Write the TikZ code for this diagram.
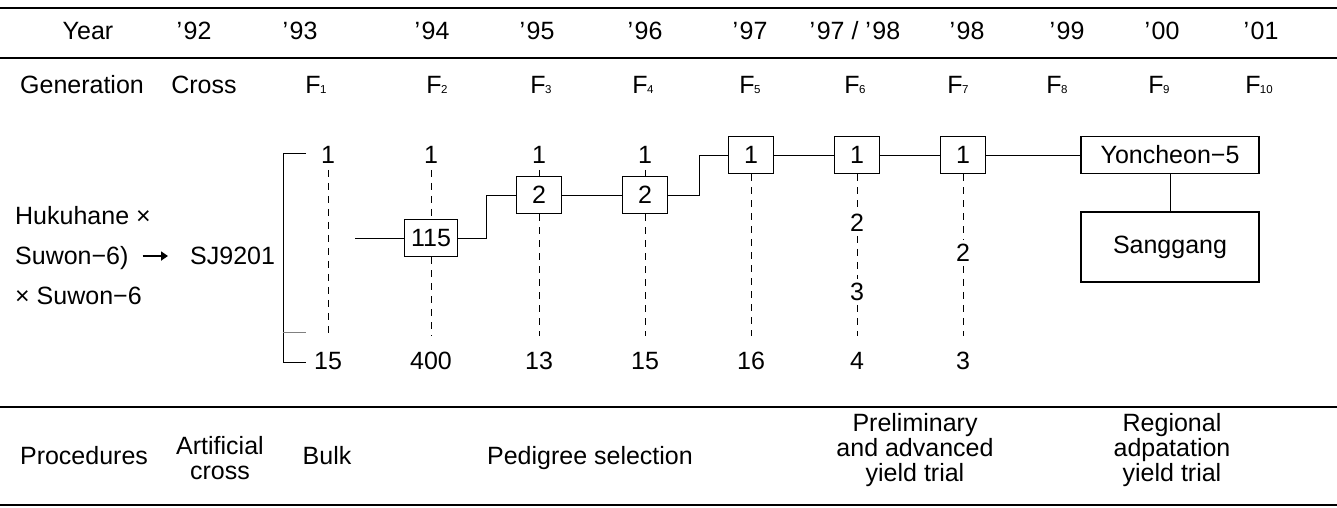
\documentclass[tikz,border=0pt]{standalone}
\usepackage{fontspec}
\setmainfont{Liberation Sans}
\usetikzlibrary{arrows.meta}
\newcommand\Fgen[1]{F\kern-0.6pt{\fontsize{11.5}{11.5}\selectfont #1}}
\newcommand\Yr[1]{’\kern1.5pt#1}
\begin{document}
\begin{tikzpicture}[x=1pt,y=-1pt,
  txt/.style={inner sep=0pt, text height=17.5pt, text depth=0pt, font=\fontsize{25}{26}\selectfont},
  multi/.style={inner sep=0pt, align=center, font=\fontsize{25}{25}\selectfont},
  numbox/.style={draw, line width=1.2pt, minimum width=45pt, minimum height=37pt, inner sep=0pt, font=\fontsize{25}{26}\selectfont},
  namebox/.style={draw, line width=1.2pt, minimum width=178pt, inner sep=0pt, font=\fontsize{25}{26}\selectfont},
  rule/.style={line width=1.6pt},
  conn/.style={line width=1pt},
  dline/.style={line width=0.8pt, dash pattern=on 7pt off 6pt},
  arrowline/.style={line width=2.4pt, -{Triangle[length=7pt,width=9pt]}}
]
\useasboundingbox (0,0) rectangle (1337,507);
% rules
\draw[rule] (0,8) -- (1337,8);
\draw[rule] (0,58) -- (1337,58);
\draw[rule] (0,407) -- (1337,407);
\draw[rule] (0,505) -- (1337,505);
% header: years
\node[txt] (hyear) at (88,31) {Year};
\node[txt] (y92) at (194,31) {\Yr{92}};
\node[txt] (y93) at (300,31) {\Yr{93}};
\node[txt] (y94) at (432,31) {\Yr{94}};
\node[txt] (y95) at (537,31) {\Yr{95}};
\node[txt] (y96) at (645,31) {\Yr{96}};
\node[txt] (y97) at (750,31) {\Yr{97}};
\node[txt] (y9798) at (855,31) {\Yr{97} / \Yr{98}};
\node[txt] (y98) at (967,31) {\Yr{98}};
\node[txt] (y99) at (1067,31) {\Yr{99}};
\node[txt] (y00) at (1162,31) {\Yr{00}};
\node[txt] (y01) at (1261,31) {\Yr{01}};
% header: generations
\node[txt] (hgen) at (82,85) {Generation};
\node[txt] (gcross) at (204,85) {Cross};
\node[txt] (g1) at (316,85) {\Fgen{1}};
\node[txt] (g2) at (437,85) {\Fgen{2}};
\node[txt] (g3) at (541,85) {\Fgen{3}};
\node[txt] (g4) at (643,85) {\Fgen{4}};
\node[txt] (g5) at (750,85) {\Fgen{5}};
\node[txt] (g6) at (855,85) {\Fgen{6}};
\node[txt] (g7) at (958,85) {\Fgen{7}};
\node[txt] (g8) at (1057,85) {\Fgen{8}};
\node[txt] (g9) at (1159,85) {\Fgen{9}};
\node[txt] (g10) at (1259,85) {\Fgen{10}};
% parents
\node[txt, anchor=west] (p1) at (15,216) {Hukuhane ×};
\node[txt, anchor=west] (p2) at (15,256) {Suwon−6)};
\node[txt, anchor=west] (p3) at (15,296) {× Suwon−6};
\node[txt, anchor=west] (sj) at (190,256) {SJ9201};
\draw[arrowline, shorten <=14pt, shorten >=22pt] (p2.east) -- (sj.west);
% bracket
\draw[conn] (306,153) -- (283,153) -- (283,362) -- (306,362);
\draw[conn, gray] (283,332) -- (306,332);
% F1 column
\node[txt] (a1) at (328,155) {1};
\node[txt] (a15) at (328,361) {15};
\draw[dline, shorten <=6pt, shorten >=16pt] (a1) -- (a15);
% F2 column
\node[txt] (b1) at (431,155) {1};
\node[numbox, minimum width=53pt] (b115) at (431,238) {115};
\node[txt] (b400) at (431,361) {400};
\draw[dline, shorten <=6pt] (b1) -- (b115);
\draw[dline, shorten >=16pt] (b115) -- (b400);
\coordinate (s0) at (355,238);
\draw[conn] (s0) -- (b115);
% F3 column
\node[txt] (c1) at (539,155) {1};
\node[numbox] (c2) at (539,195) {2};
\node[txt] (c13) at (539,361) {13};
\draw[dline, shorten <=6pt] (c1) -- (c2);
\draw[dline, shorten >=16pt] (c2) -- (c13);
% F4 column
\node[txt] (d1) at (645,155) {1};
\node[numbox] (d2) at (645,195) {2};
\node[txt] (d15) at (645,361) {15};
\draw[dline, shorten <=6pt] (d1) -- (d2);
\draw[dline, shorten >=16pt] (d2) -- (d15);
% F5 column
\node[numbox] (e1) at (751,155) {1};
\node[txt] (e16) at (751,361) {16};
\draw[dline, shorten >=16pt] (e1) -- (e16);
% F6 column
\node[numbox] (f1) at (857,155) {1};
\node[txt] (f2) at (857,223) {2};
\node[txt] (f3) at (857,292) {3};
\node[txt] (f4) at (857,361) {4};
\draw[dline, shorten >=4pt] (f1) -- (f2);
\draw[dline, shorten <=4pt, shorten >=4pt] (f2) -- (f3);
\draw[dline, shorten <=4pt, shorten >=16pt] (f3) -- (f4);
% F7 column
\node[numbox] (h1) at (963,155) {1};
\node[txt] (h2) at (963,253) {2};
\node[txt] (h3) at (963,361) {3};
\draw[dline, shorten >=4pt] (h1) -- (h2);
\draw[dline, shorten <=4pt, shorten >=16pt] (h2) -- (h3);
% varieties
\node[namebox, minimum height=37pt] (yon) at (1170,155) {Yoncheon−5};
\node[namebox, minimum height=70pt] (sang) at (1170,247) {Sanggang};
% connectors
\draw[conn] (b115.east) -- ++(28,0) |- (c2.west);
\draw[conn] (c2) -- (d2);
\draw[conn] (d2.east) -- ++(31,0) |- (e1.west);
\draw[conn] (e1) -- (f1);
\draw[conn] (f1) -- (h1);
\draw[conn] (h1) -- (yon);
\draw[conn] (yon) -- (sang);
% procedures
\node[txt] (proc) at (84,456) {Procedures};
\node[multi] (art) at (220,458) {Artificial\\cross};
\node[txt] (bulk) at (327,456) {Bulk};
\node[txt] (ped) at (590,456) {Pedigree selection};
\node[multi] (pre) at (915,450) {Preliminary\\and advanced\\yield trial};
\node[multi] (reg) at (1172,450) {Regional\\adpatation\\yield trial};
\end{tikzpicture}
\end{document}
